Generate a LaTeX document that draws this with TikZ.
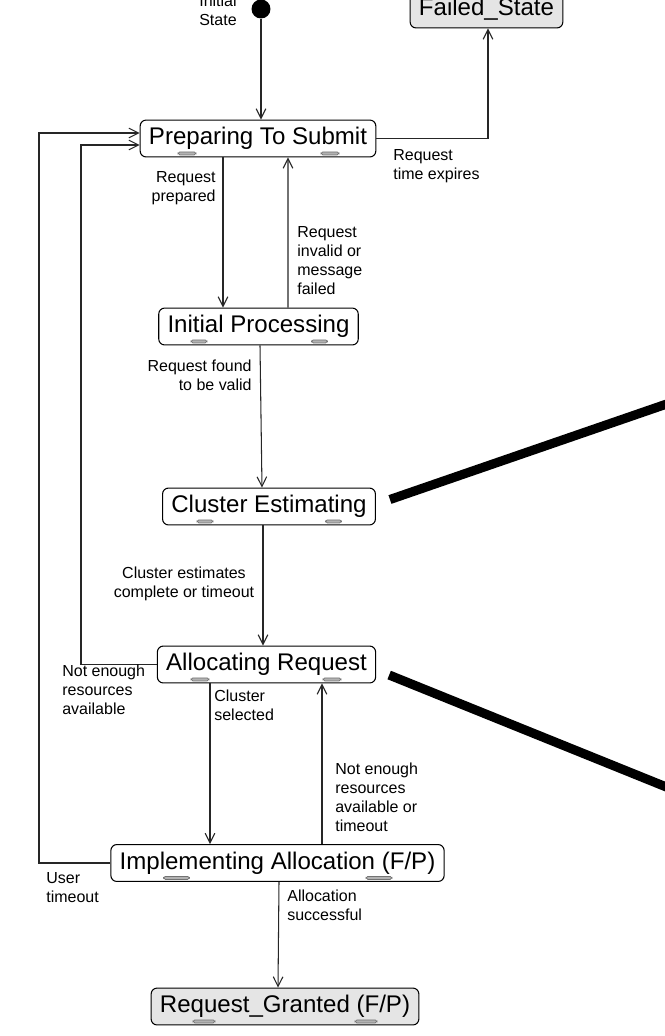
\documentclass[tikz,border=0pt]{standalone}
\usepackage{fontspec}
\setmainfont{Liberation Sans}
\usetikzlibrary{arrows.meta,calc}

\begin{document}
\begin{tikzpicture}[
  x=0.02cm, y=-0.02cm,
  state/.style={rectangle, draw, rounded corners=3.4pt, minimum height=21pt, inner xsep=5pt, inner ysep=1pt, line width=0.6pt, font=\fontsize{13.7}{15}\selectfont},
  final/.style={state, fill=gray!20},
  lbl/.style={inner sep=0pt, font=\fontsize{9.1}{10.8}\selectfont},
  trans/.style={->, draw=black!85, line width=0.6pt},
  hook/.style={draw=black!55, fill=black!30, rounded corners=1pt, line width=0.4pt},
  band/.style={line width=5.2pt},
  >={Straight Barb[length=5.5pt,width=5.5pt]}
]
\useasboundingbox (0,0) rectangle (665,1036);

% states
\node[circle, fill=black, inner sep=0pt, minimum size=10.8pt] (start) at (261,9) {};
\node[final] (failed) at (486.5,9.5) {Failed\_State};
\node[state] (prep) at (258,138.5) {Preparing To Submit};
\node[state] (init) at (258.5,326.5) {Initial Processing};
\node[state] (clus) at (269,506.5) {Cluster Estimating};
\node[state] (alloc) at (266.5,664.5) {Allocating Request};
\node[state] (impl) at (277.5,863) {Implementing Allocation (F/P)};
\node[final] (granted) at (285,1006.5) {Request\_Granted (F/P)};

% small marks on the lower edges
\foreach \n/\dl/\dr/\w in {prep/-71/72/18, init/-59.5/61/16, clus/-64/64.5/16,
    alloc/-66.5/65.5/18, impl/-101/101.5/26, granted/-81/81/22}
{
  \draw[hook] ($(\n.south)+(\dl-\w/2,-5.5)$) rectangle +(\w,3);
  \draw[hook] ($(\n.south)+(\dr-\w/2,-5.5)$) rectangle +(\w,3);
}

% transitions
\coordinate (outer) at (39,0);
\coordinate (inner) at (81,0);
\draw[trans] (start) -- (start |- prep.north);
\draw[trans] (prep.east) -| ($(failed.south)+(1.5,0)$);
\draw[trans] ($(prep.south)+(-35,0)$) -- ($(init.north)+(-35.5,0)$);
\draw[trans] ($(init.north)+(29.5,0)$) -- ($(prep.south)+(30,0)$);
\draw[trans] ($(init.south)+(1.5,0)$) -- ($(clus.north)+(-7,0)$);
\draw[trans] ($(clus.south)+(-6,0)$) -- ($(alloc.north)+(-3.5,0)$);
\draw[trans] (alloc.west) -- (alloc.west -| inner) |- ($(prep.west)+(0,6.5)$);
\draw[trans] ($(alloc.south)+(-56.5,0)$) -- ($(impl.north)+(-67.5,0)$);
\draw[trans] ($(impl.north)+(44.5,0)$) -- ($(alloc.south)+(55.5,0)$);
\draw[trans] (impl.west) -- (impl.west -| outer) |- ($(prep.west)+(0,-5.5)$);
\draw[trans] ($(impl.south)+(1.5,0)$) -- ($(granted.north)+(-7,0)$);

% labels
\node[lbl, anchor=south east, align=right] (lstart) at (237,26) {Initial\\State};
\node[lbl, anchor=north west, align=left] (lexpire) at (393,149) {Request\\time expires};
\node[lbl, anchor=north east, align=right] (lprep) at (216,171) {Request\\prepared};
\node[lbl, anchor=north west, align=left] (linvalid) at (297,226) {Request\\invalid or\\message\\failed};
\node[lbl, anchor=north east, align=right] (lvalid) at (252,360) {Request found\\to be valid};
\node[lbl, anchor=north, align=center] (lest) at (184,567) {Cluster estimates\\complete or timeout};
\node[lbl, anchor=north west, align=left] (lnores) at (62,665) {Not enough\\resources\\available};
\node[lbl, anchor=north west, align=left] (lsel) at (214,690) {Cluster\\selected};
\node[lbl, anchor=north west, align=left] (lnoresto) at (335,763) {Not enough\\resources\\available or\\timeout};
\node[lbl, anchor=north west, align=left] (luser) at (46,872) {User\\timeout};
\node[lbl, anchor=north west, align=left] (lsucc) at (287,890) {Allocation\\successful};

% pointers out of the frame
\coordinate (farA) at (700,392.5);
\coordinate (farB) at (700,800.6);
\draw[band] ($(clus.east)+(14,-7)$) -- (farA);
\draw[band] ($(alloc.east)+(13,10.5)$) -- (farB);
\end{tikzpicture}
\end{document}
